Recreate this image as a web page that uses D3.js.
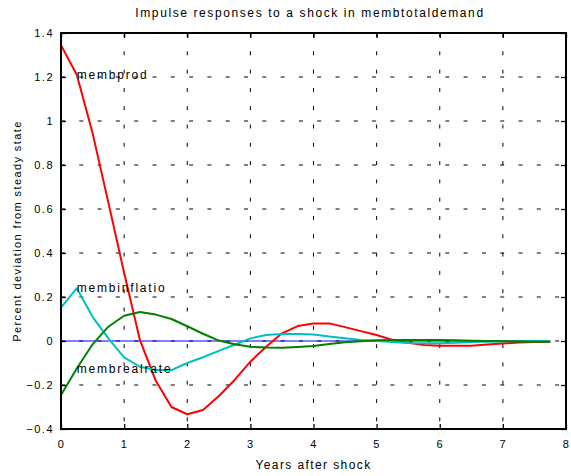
<!DOCTYPE html>
<html><head><meta charset="utf-8">
<script src="https://cdn.jsdelivr.net/npm/d3@7"></script>
<style>body{margin:0;background:#fff}svg{display:block}text{font-family:"Liberation Sans",Arial,sans-serif;fill:#000}</style>
</head><body><div id="c"></div>
<script>
const years = d3.range(32).map(i => i * 0.25);
const membprod = [1.345,1.21,0.945,0.63,0.31,0.005,-0.18,-0.30,-0.333,-0.314,-0.25,-0.177,-0.094,-0.026,0.035,0.068,0.08,0.08,0.063,0.045,0.027,0.005,-0.008,-0.018,-0.022,-0.022,-0.022,-0.016,-0.011,-0.007,-0.004,-0.003];
const membinflatio = [0.152,0.24,0.11,0.012,-0.074,-0.117,-0.132,-0.132,-0.10,-0.074,-0.045,-0.017,0.012,0.027,0.032,0.032,0.03,0.02,0.012,0.005,0.0,-0.005,-0.009,-0.01,-0.01,-0.008,-0.005,-0.003,-0.001,0,0,0];
const membrealrate = [-0.245,-0.125,-0.015,0.065,0.115,0.132,0.12,0.10,0.067,0.033,0.002,-0.015,-0.026,-0.03,-0.031,-0.027,-0.023,-0.014,-0.006,-0.001,0.003,0.004,0.005,0.005,0.005,0.003,0.001,0,-0.001,-0.002,-0.003,-0.003];
const zeroLine = years.map(() => 0);
const xTicks = [0,1,2,3,4,5,6,7,8];
const yTicks = [-0.4,-0.2,0,0.2,0.4,0.6,0.8,1,1.2,1.4];
const seriesNames = ["membprod","membinflatio","membrealrate"];
const title = "Impulse responses to a shock in membtotaldemand";
const xLabel = "Years after shock";
const yLabel = "Percent deviation from steady state";

const W = 571, H = 476;
const m = {l: 61, r: 5, t: 33, b: 47};
const svg = d3.select("#c").append("svg").attr("width", W).attr("height", H);
svg.append("rect").attr("width", W).attr("height", H).attr("fill", "#fff");
const x = d3.scaleLinear().domain([0, 8]).range([m.l, W - m.r]);
const y = d3.scaleLinear().domain([-0.4, 1.4]).range([H - m.b, m.t]);
const fs = 11, ls = "1.5px";

// grid
const g = svg.append("g");
g.selectAll(".vg").data(xTicks.slice(1, -1)).join("line")
  .attr("x1", d => x(d)).attr("x2", d => x(d)).attr("y1", y(1.4)).attr("y2", y(-0.4))
  .attr("stroke", "#000").attr("stroke-width", 1).attr("stroke-dasharray", "4,14.3");
g.selectAll(".hg").data(yTicks.slice(1, -1)).join("line")
  .attr("x1", x(0)).attr("x2", x(8)).attr("y1", d => y(d)).attr("y2", d => y(d))
  .attr("stroke", "#000").attr("stroke-width", 1).attr("stroke-dasharray", "4,14.3");

// lines
const line = d3.line().x((d, i) => x(years[i])).y(d => y(d));
svg.append("path").datum(zeroLine).attr("d", line).attr("fill", "none").attr("stroke", "#0000ff").attr("stroke-width", 1);
const cols = ["#ff0000", "#00bfbf", "#008000"];
[membprod, membinflatio, membrealrate].forEach((s, k) => {
  svg.append("path").datum(s).attr("d", line).attr("fill", "none").attr("stroke", cols[k]).attr("stroke-width", 2).attr("stroke-linejoin", "round");
});

// series labels
[membprod, membinflatio, membrealrate].forEach((s, k) => {
  svg.append("text").attr("x", x(years[1])).attr("y", y(s[1])).attr("dy", "0.35em")
    .attr("font-size", 12).attr("letter-spacing", "1.8px").text(seriesNames[k]);
});

// axes with inward ticks
const tl = 5;
const axB = d3.axisBottom(x).tickValues(xTicks).tickSize(-tl).tickPadding(tl + 6).tickFormat(d3.format("d"));
const axT = d3.axisTop(x).tickValues(xTicks).tickSize(-tl).tickFormat("");
const axL = d3.axisLeft(y).tickValues(yTicks).tickSize(-tl).tickPadding(tl + 2).tickFormat(d => d3.format("~g")(+d.toFixed(1)));
const axR = d3.axisRight(y).tickValues(yTicks).tickSize(-tl).tickFormat("");
function style(sel) {
  sel.select(".domain").remove();
  sel.selectAll("line").attr("stroke", "#000").attr("stroke-width", 1.3);
  sel.selectAll("text").attr("font-size", fs).attr("font-family", "Liberation Sans, Arial, sans-serif").attr("letter-spacing", ls);
}
svg.append("g").attr("transform", `translate(0,${y(-0.4)})`).call(axB).call(style);
svg.append("g").attr("transform", `translate(0,${y(1.4)})`).call(axT).call(style);
svg.append("g").attr("transform", `translate(${x(0)},0)`).call(axL).call(style);
svg.append("g").attr("transform", `translate(${x(8)},0)`).call(axR).call(style);
svg.append("rect").attr("x", x(0)).attr("y", y(1.4)).attr("width", x(8) - x(0)).attr("height", y(-0.4) - y(1.4))
  .attr("fill", "none").attr("stroke", "#000").attr("stroke-width", 2);

// titles
svg.append("text").attr("x", 310).attr("y", 17).attr("text-anchor", "middle").attr("font-size", 12).attr("letter-spacing", "1.6px").text(title);
svg.append("text").attr("x", (x(0) + x(8)) / 2).attr("y", 469).attr("text-anchor", "middle").attr("font-size", 12).attr("letter-spacing", "1.4px").text(xLabel);
svg.append("text").attr("transform", `translate(21,${(y(1.4) + y(-0.4)) / 2}) rotate(-90)`).attr("text-anchor", "middle").attr("font-size", 11).attr("letter-spacing", "1.4px").text(yLabel);
</script></body></html>
